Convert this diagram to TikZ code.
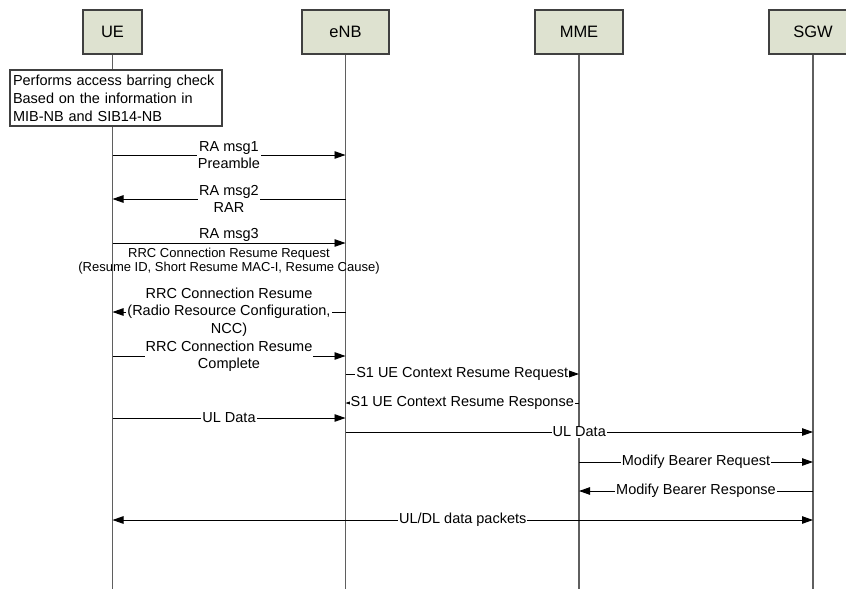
\documentclass[tikz,border=0pt]{standalone}
\usepackage{fontspec}
\setmainfont{Liberation Sans}
\usetikzlibrary{arrows.meta}
\definecolor{boxfill}{RGB}{222,226,208}
\definecolor{lifegray}{RGB}{95,95,95}
\newcommand\entityfont{\fontsize{16.5}{19}\selectfont}
\newcommand\msgfont{\fontsize{14.5}{17}\selectfont}
\newcommand\tallmsgfont{\fontsize{14.5}{17.5}\selectfont}
\newcommand\notefont{\fontsize{14.5}{18}\selectfont}
\newcommand\smallmsgfont{\fontsize{13}{13.5}\selectfont}
\begin{document}
\begin{tikzpicture}[x=1pt,y=-1pt,
  entity/.style={draw=black!75, line width=1.2pt, fill=boxfill,
    minimum height=44pt, inner sep=0pt, font=\entityfont},
  life/.style={draw=lifegray, line width=1.2pt},
  msg/.style={draw=black, line width=0.95pt, -{Triangle[length=11pt,width=7.5pt]}},
  bimsg/.style={draw=black, line width=0.95pt,
    {Triangle[length=11pt,width=7.5pt]}-{Triangle[length=11pt,width=7.5pt]}},
  lbl/.style={fill=white, inner xsep=1pt, inner ysep=0.5pt, align=center, font=\msgfont},
  notebox/.style={draw=black!75, fill=white, line width=1.2pt, align=left,
    font=\notefont, text width=206pt, inner xsep=3pt, minimum height=56pt},
]
\useasboundingbox (0,0) rectangle (846,589);
\clip (0,0) rectangle (846,589);

% entities
\node[entity, minimum width=59pt] (UE)  at (112.5,32) {UE};
\node[entity, minimum width=87pt] (eNB) at (345.5,32) {eNB};
\node[entity, minimum width=88pt] (MME) at (579,32)   {MME};
\node[entity, minimum width=88pt] (SGW) at (813,32)   {SGW};

% lifelines
\coordinate (UEend)  at (UE  |- 0,589);
\coordinate (eNBend) at (eNB |- 0,589);
\coordinate (MMEend) at (MME |- 0,589);
\coordinate (SGWend) at (SGW |- 0,589);
\draw[life] (UE.south)  -- (UEend);
\draw[life] (eNB.south) -- (eNBend);
\draw[life] (MME.south) -- (MMEend);
\draw[life] (SGW.south) -- (SGWend);

% access barring note on the UE lifeline
\node[notebox] (check) at (116,98)
  {Performs access barring check\\Based on the information in\\MIB-NB and SIB14-NB};

% random access procedure
\draw[msg] (UE |- 0,155) -- (eNB |- 0,155)
  node[lbl, midway] {RA msg1\\Preamble};
\draw[msg] (eNB |- 0,199) -- (UE |- 0,199)
  node[lbl, midway] {RA msg2\\RAR};
\draw[msg] (UE |- 0,243) -- (eNB |- 0,243)
  node[midway, above, inner sep=1pt, font=\msgfont] {RA msg3}
  node[midway, below, inner sep=5pt, align=center, font=\smallmsgfont]
  {RRC Connection Resume Request\\(Resume ID, Short Resume MAC-I, Resume Cause)};

% RRC connection resume
\draw[msg] (eNB |- 0,312) -- (UE |- 0,312)
  node[lbl, midway, font=\tallmsgfont] {RRC Connection Resume\\(Radio Resource Configuration,\\NCC)};
\draw[msg] (UE |- 0,356) -- (eNB |- 0,356)
  node[lbl, midway] {RRC Connection Resume\\Complete};

% S1 context resume
\draw[msg] (eNB |- 0,374) -- (MME |- 0,374)
  node[lbl, midway] {S1 UE Context Resume Request};
\draw[msg] (MME |- 0,403) -- (eNB |- 0,403)
  node[lbl, midway] {S1 UE Context Resume Response};

% uplink data
\draw[msg] (UE |- 0,418) -- (eNB |- 0,418)
  node[lbl, midway] {UL Data};
\draw[msg] (eNB |- 0,432) -- (SGW |- 0,432)
  node[lbl, midway] {UL Data};

% bearer modification
\draw[msg] (MME |- 0,462) -- (SGW |- 0,462)
  node[lbl, midway] {Modify Bearer Request};
\draw[msg] (SGW |- 0,491) -- (MME |- 0,491)
  node[lbl, midway] {Modify Bearer Response};

% user plane data
\draw[bimsg] (UE |- 0,520) -- (SGW |- 0,520)
  node[lbl, midway] {UL/DL data packets};
\end{tikzpicture}
\end{document}
